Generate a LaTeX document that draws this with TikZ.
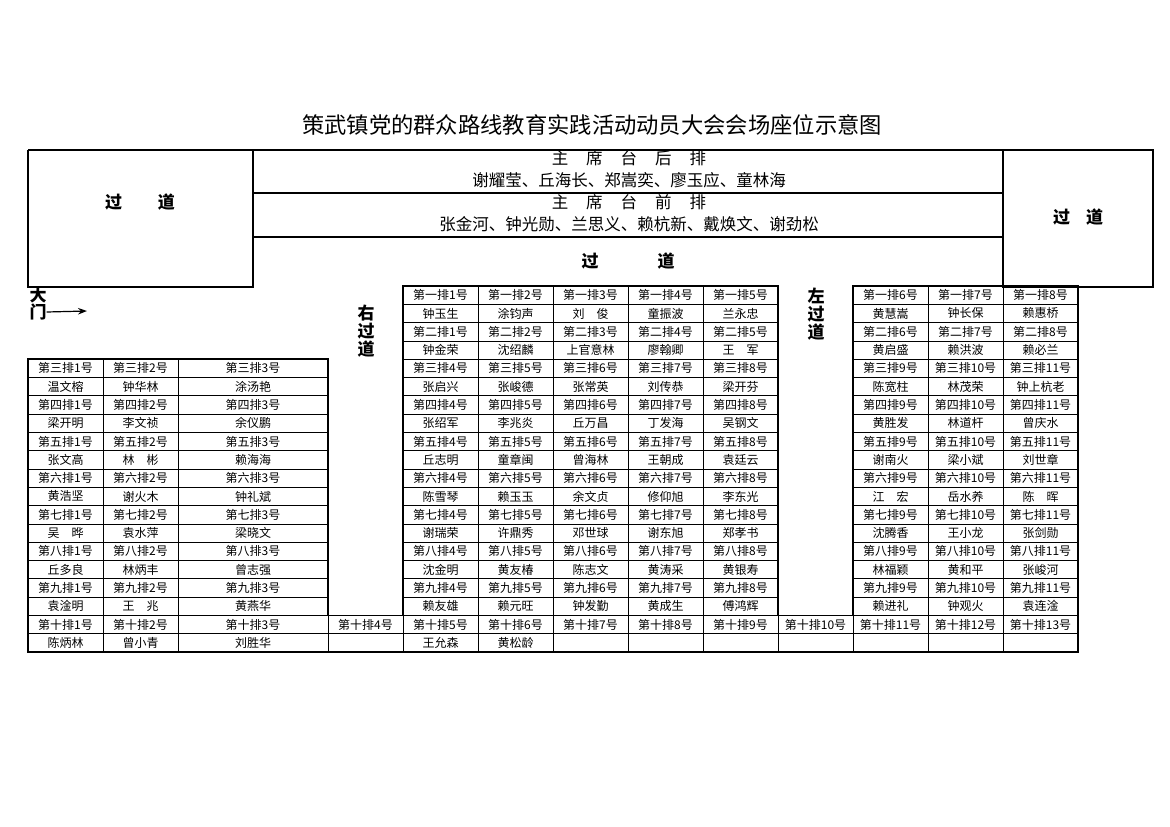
\documentclass[tikz,border=0pt]{standalone}
\usepackage{fontspec}
\setmainfont{Noto Sans CJK SC}
\usetikzlibrary{arrows.meta}
\def\xs{{28,103,178,328,403,478,553,628,703,778,853,928,1003,1078}}
\tikzset{
  cellbox/.style={draw, line width=0.8pt, inner sep=0pt, outer sep=0pt, font=\fontsize{12}{12}\selectfont},
  heavy/.style={line width=2.4pt},
  blockline/.style={line width=1.5pt},
  lbl/.style={font=\fontsize{17}{17}\selectfont\bfseries, inner sep=0pt},
  hdr/.style={font=\fontsize{16.5}{17}\selectfont, inner sep=0pt},
}
\newcommand\seat[3]{%
  \pgfmathtruncatemacro\seatnx{#1+1}%
  \pgfmathsetmacro\seatxa{\xs[#1]}%
  \pgfmathsetmacro\seatxb{\xs[\seatnx]}%
  \pgfmathsetmacro\seatyc{286+18.3*#2+9.15}%
  \pgfmathsetmacro\seatcw{\seatxb-\seatxa}%
  \pgfmathsetmacro\seatxc{(\seatxa+\seatxb)/2}%
  \node[cellbox, minimum width=\seatcw pt, minimum height=18.3pt] (s-#2-#1) at (\seatxc,\seatyc) {#3};}
\newcommand\seatrow[3]{\foreach \t [count=\k from #2] in {#3} {\seat{\k}{#1}{\t}}}
\begin{document}
\begin{tikzpicture}[x=1pt,y=-1pt]
\useasboundingbox (0,0) rectangle (1170,827);
% title
\node[font=\fontsize{22.3}{22}\selectfont, inner sep=0pt] (title) at (592,125) {策武镇党的群众路线教育实践活动动员大会会场座位示意图};
% top frame
\draw[heavy] (28,150) -- (1153,150) -- (1153,287) -- (1003,287) -- (1003,150);
\draw[heavy] (28,150) -- (28,287) -- (253,287) -- (253,150);
\draw[heavy] (253,193) -- (1003,193);
\draw[heavy] (253,237) -- (1003,237);
\node[hdr] (rearhdr) at (629,158) {主\hspace{18pt}席\hspace{18pt}台\hspace{18pt}后\hspace{18pt}排};
\node[hdr] (rearnames) at (629,180) {谢耀莹、丘海长、郑嵩奕、廖玉应、童林海};
\node[hdr] (fronthdr) at (629,202) {主\hspace{18pt}席\hspace{18pt}台\hspace{18pt}前\hspace{18pt}排};
\node[hdr] (frontnames) at (629,224) {张金河、钟光勋、兰思义、赖杭新、戴焕文、谢劲松};
\node[lbl] (aislemid) at (628,261) {过\hspace{59pt}道};
\node[lbl] (aisleleft) at (140,202) {过\hspace{36pt}道};
\node[lbl] (aisleright) at (1078,217) {过\hspace{16pt}道};
% gate
\node[lbl] (da) at (38,295) {大};
\node[lbl] (men) at (38,312) {门};
\coordinate (gatetip) at (87,311);
\draw[line width=1.2pt, -{Stealth[length=9pt,width=6.5pt]}] (men.east) -- (gatetip);
% side aisles
\node[lbl] (r1) at (366,313) {右};
\node[lbl] (r2) at (366,331) {过};
\node[lbl] (r3) at (366,349) {道};
\node[lbl] (l1) at (816,296) {左};
\node[lbl] (l2) at (816,314) {过};
\node[lbl] (l3) at (816,332) {道};
% seats: middle block
\seatrow{0}{4}{第一排1号,第一排2号,第一排3号,第一排4号,第一排5号}
\seatrow{1}{4}{钟玉生,涂钧声,刘　俊,童振波,兰永忠}
\seatrow{2}{4}{第二排1号,第二排2号,第二排3号,第二排4号,第二排5号}
\seatrow{3}{4}{钟金荣,沈绍麟,上官意林,廖翰卿,王　军}
\seatrow{4}{4}{第三排4号,第三排5号,第三排6号,第三排7号,第三排8号}
\seatrow{5}{4}{张启兴,张峻德,张常英,刘传恭,梁开芬}
\seatrow{6}{4}{第四排4号,第四排5号,第四排6号,第四排7号,第四排8号}
\seatrow{7}{4}{张绍军,李兆炎,丘万昌,丁发海,吴钢文}
\seatrow{8}{4}{第五排4号,第五排5号,第五排6号,第五排7号,第五排8号}
\seatrow{9}{4}{丘志明,童章闽,曾海林,王朝成,袁廷云}
\seatrow{10}{4}{第六排4号,第六排5号,第六排6号,第六排7号,第六排8号}
\seatrow{11}{4}{陈雪琴,赖玉玉,余文贞,修仰旭,李东光}
\seatrow{12}{4}{第七排4号,第七排5号,第七排6号,第七排7号,第七排8号}
\seatrow{13}{4}{谢瑞荣,许鼎秀,邓世球,谢东旭,郑孝书}
\seatrow{14}{4}{第八排4号,第八排5号,第八排6号,第八排7号,第八排8号}
\seatrow{15}{4}{沈金明,黄友椿,陈志文,黄涛采,黄银寿}
\seatrow{16}{4}{第九排4号,第九排5号,第九排6号,第九排7号,第九排8号}
\seatrow{17}{4}{赖友雄,赖元旺,钟发勤,黄成生,傅鸿辉}
% right block
\seatrow{0}{10}{第一排6号,第一排7号,第一排8号}
\seatrow{1}{10}{黄慧嵩,钟长保,赖惠桥}
\seatrow{2}{10}{第二排6号,第二排7号,第二排8号}
\seatrow{3}{10}{黄启盛,赖洪波,赖必兰}
\seatrow{4}{10}{第三排9号,第三排10号,第三排11号}
\seatrow{5}{10}{陈宽柱,林茂荣,钟上杭老}
\seatrow{6}{10}{第四排9号,第四排10号,第四排11号}
\seatrow{7}{10}{黄胜发,林道杆,曾庆水}
\seatrow{8}{10}{第五排9号,第五排10号,第五排11号}
\seatrow{9}{10}{谢南火,梁小斌,刘世章}
\seatrow{10}{10}{第六排9号,第六排10号,第六排11号}
\seatrow{11}{10}{江　宏,岳水养,陈　晖}
\seatrow{12}{10}{第七排9号,第七排10号,第七排11号}
\seatrow{13}{10}{沈腾香,王小龙,张剑勋}
\seatrow{14}{10}{第八排9号,第八排10号,第八排11号}
\seatrow{15}{10}{林福颖,黄和平,张峻河}
\seatrow{16}{10}{第九排9号,第九排10号,第九排11号}
\seatrow{17}{10}{赖进礼,钟观火,袁连淦}
% left block
\seatrow{4}{0}{第三排1号,第三排2号,第三排3号}
\seatrow{5}{0}{温文榕,钟华林,涂汤艳}
\seatrow{6}{0}{第四排1号,第四排2号,第四排3号}
\seatrow{7}{0}{梁开明,李文祯,余仪鹏}
\seatrow{8}{0}{第五排1号,第五排2号,第五排3号}
\seatrow{9}{0}{张文高,林　彬,赖海海}
\seatrow{10}{0}{第六排1号,第六排2号,第六排3号}
\seatrow{11}{0}{黄浩坚,谢火木,钟礼斌}
\seatrow{12}{0}{第七排1号,第七排2号,第七排3号}
\seatrow{13}{0}{吴　晔,袁水萍,梁晓文}
\seatrow{14}{0}{第八排1号,第八排2号,第八排3号}
\seatrow{15}{0}{丘多良,林炳丰,曾志强}
\seatrow{16}{0}{第九排1号,第九排2号,第九排3号}
\seatrow{17}{0}{袁淦明,王　兆,黄燕华}
% tenth row
\seatrow{18}{0}{第十排1号,第十排2号,第十排3号,第十排4号,第十排5号,第十排6号,第十排7号,第十排8号,第十排9号,第十排10号,第十排11号,第十排12号,第十排13号}
\seatrow{19}{0}{陈炳林,曾小青,刘胜华,{},王允森,黄松龄,{},{},{},{},{},{},{}}
% block outlines
\draw[blockline] (403,286) rectangle (778,615.4);
\draw[blockline] (853,286) rectangle (1078,615.4);
\draw[blockline] (28,359.2) rectangle (328,615.4);
\draw[blockline] (28,615.4) rectangle (1078,652);
\end{tikzpicture}
\end{document}
